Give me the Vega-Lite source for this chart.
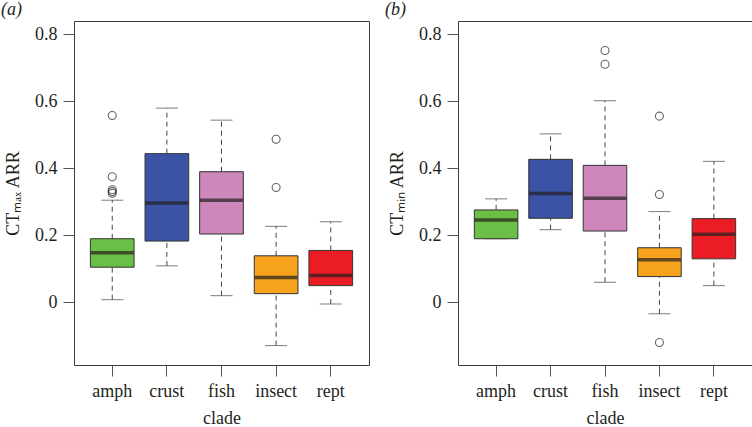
{
  "$schema": "https://vega.github.io/schema/vega-lite/v6.json",
  "padding": {"left": 0, "top": 0, "right": 1, "bottom": 0},
  "bounds": "flush",
  "spacing": 89,
  "background": "white",
  "config": {
    "font": "Liberation Serif",
    "view": {"stroke": "#3a3a3a", "strokeWidth": 1},
    "axisY": {"domain": false, "grid": false, "tickSize": 11, "tickColor": "#555555", "labelPadding": 6, "labelFont": "Liberation Serif", "labelFontSize": 18, "labelColor": "#231f20", "titleFont": "Liberation Serif", "titleFontSize": 18, "titleFontWeight": "normal", "titleColor": "#231f20", "titlePadding": 12},
    "axisX": {"domain": false, "grid": false, "tickSize": 11, "tickColor": "#555555", "labelPadding": 6, "labelFont": "Liberation Serif", "labelFontSize": 18, "labelColor": "#231f20", "labelAngle": 0, "titleFont": "Liberation Serif", "titleFontSize": 18, "titleFontWeight": "normal", "titleColor": "#231f20", "titlePadding": 9},
    "title": {"font": "Liberation Serif", "fontSize": 18, "fontWeight": "normal", "fontStyle": "italic", "color": "#231f20", "anchor": "start", "frame": "group", "offset": 2}
  },
  "datasets": {
    "boxes": [
      {"panel": "a", "clade": "amph", "lower": 0.007, "q1": 0.104, "median": 0.147, "q3": 0.189, "upper": 0.304},
      {"panel": "a", "clade": "crust", "lower": 0.108, "q1": 0.182, "median": 0.296, "q3": 0.443, "upper": 0.579},
      {"panel": "a", "clade": "fish", "lower": 0.019, "q1": 0.203, "median": 0.304, "q3": 0.389, "upper": 0.543},
      {"panel": "a", "clade": "insect", "lower": -0.130, "q1": 0.025, "median": 0.073, "q3": 0.138, "upper": 0.226},
      {"panel": "a", "clade": "rept", "lower": -0.006, "q1": 0.049, "median": 0.079, "q3": 0.154, "upper": 0.240},
      {"panel": "b", "clade": "amph", "lower": 0.189, "q1": 0.189, "median": 0.245, "q3": 0.275, "upper": 0.308},
      {"panel": "b", "clade": "crust", "lower": 0.216, "q1": 0.250, "median": 0.324, "q3": 0.426, "upper": 0.502},
      {"panel": "b", "clade": "fish", "lower": 0.059, "q1": 0.212, "median": 0.310, "q3": 0.408, "upper": 0.601},
      {"panel": "b", "clade": "insect", "lower": -0.035, "q1": 0.076, "median": 0.126, "q3": 0.162, "upper": 0.270},
      {"panel": "b", "clade": "rept", "lower": 0.049, "q1": 0.129, "median": 0.202, "q3": 0.249, "upper": 0.420}
    ],
    "outliers": [
      {"panel": "a", "clade": "amph", "value": 0.557},
      {"panel": "a", "clade": "amph", "value": 0.374},
      {"panel": "a", "clade": "amph", "value": 0.335},
      {"panel": "a", "clade": "amph", "value": 0.330},
      {"panel": "a", "clade": "amph", "value": 0.325},
      {"panel": "a", "clade": "insect", "value": 0.486},
      {"panel": "a", "clade": "insect", "value": 0.342},
      {"panel": "b", "clade": "fish", "value": 0.751},
      {"panel": "b", "clade": "fish", "value": 0.710},
      {"panel": "b", "clade": "insect", "value": 0.555},
      {"panel": "b", "clade": "insect", "value": 0.321},
      {"panel": "b", "clade": "insect", "value": -0.121}
    ]
  },
  "hconcat": [
    {
      "width": 295,
      "height": 344,
      "title": {"text": "(a)", "dx": -73},
      "data": {"name": "boxes"},
      "transform": [{"filter": "datum.panel == 'a'"}],
      "encoding": {
        "x": {"field": "clade", "type": "nominal", "scale": {"paddingInner": 0, "paddingOuter": 0.2}, "axis": {"title": "clade"}}
      },
      "layer": [
        {"mark": {"type": "rule", "strokeDash": [5, 4], "color": "#444444", "strokeWidth": 1},
         "encoding": {"y": {"field": "q3", "type": "quantitative", "title": "CTₘₐₓ ARR", "scale": {"domain": [-0.188, 0.839], "nice": false, "zero": false}, "axis": {"values": [0, 0.2, 0.4, 0.6, 0.8], "labelExpr": "datum.value == 0 ? '0' : format(datum.value, '.1f')"}}, "y2": {"field": "upper"}}},
        {"mark": {"type": "rule", "strokeDash": [5, 4], "color": "#444444", "strokeWidth": 1},
         "encoding": {"y": {"field": "lower", "type": "quantitative", "title": "CTₘₐₓ ARR"}, "y2": {"field": "q1"}}},
        {"mark": {"type": "tick", "size": 22, "thickness": 1, "color": "#444444"},
         "encoding": {"y": {"field": "upper", "type": "quantitative", "title": "CTₘₐₓ ARR"}}},
        {"mark": {"type": "tick", "size": 22, "thickness": 1, "color": "#444444"},
         "encoding": {"y": {"field": "lower", "type": "quantitative", "title": "CTₘₐₓ ARR"}}},
        {"mark": {"type": "bar", "width": {"band": 0.8}, "stroke": "#333333", "strokeWidth": 1},
         "encoding": {"y": {"field": "q1", "type": "quantitative", "title": "CTₘₐₓ ARR"}, "y2": {"field": "q3"},
           "color": {"field": "clade", "type": "nominal", "legend": null, "scale": {"domain": ["amph", "crust", "fish", "insect", "rept"], "range": ["#6cbf46", "#3a53a4", "#cd87bb", "#f6a21d", "#ec1c24"]}}}},
        {"mark": {"type": "tick", "size": 43, "thickness": 3.5, "color": "#231f20"},
         "encoding": {"y": {"field": "median", "type": "quantitative", "title": "CTₘₐₓ ARR"}}},
        {"data": {"name": "outliers"},
         "transform": [{"filter": "datum.panel == 'a'"}],
         "mark": {"type": "point", "shape": "circle", "filled": false, "size": 64, "stroke": "#231f20", "strokeWidth": 1.1},
         "encoding": {"y": {"field": "value", "type": "quantitative", "title": "CTₘₐₓ ARR"}}}
      ]
    },
    {
      "width": 294,
      "height": 344,
      "title": {"text": "(b)", "dx": -73},
      "data": {"name": "boxes"},
      "transform": [{"filter": "datum.panel == 'b'"}],
      "encoding": {
        "x": {"field": "clade", "type": "nominal", "scale": {"paddingInner": 0, "paddingOuter": 0.2}, "axis": {"title": "clade"}}
      },
      "layer": [
        {"mark": {"type": "rule", "strokeDash": [5, 4], "color": "#444444", "strokeWidth": 1},
         "encoding": {"y": {"field": "q3", "type": "quantitative", "title": "CTₘᵢₙ ARR", "scale": {"domain": [-0.188, 0.839], "nice": false, "zero": false}, "axis": {"values": [0, 0.2, 0.4, 0.6, 0.8], "labelExpr": "datum.value == 0 ? '0' : format(datum.value, '.1f')"}}, "y2": {"field": "upper"}}},
        {"mark": {"type": "rule", "strokeDash": [5, 4], "color": "#444444", "strokeWidth": 1},
         "encoding": {"y": {"field": "lower", "type": "quantitative", "title": "CTₘᵢₙ ARR"}, "y2": {"field": "q1"}}},
        {"mark": {"type": "tick", "size": 22, "thickness": 1, "color": "#444444"},
         "encoding": {"y": {"field": "upper", "type": "quantitative", "title": "CTₘᵢₙ ARR"}}},
        {"mark": {"type": "tick", "size": 22, "thickness": 1, "color": "#444444"},
         "encoding": {"y": {"field": "lower", "type": "quantitative", "title": "CTₘᵢₙ ARR"}}},
        {"mark": {"type": "bar", "width": {"band": 0.8}, "stroke": "#333333", "strokeWidth": 1},
         "encoding": {"y": {"field": "q1", "type": "quantitative", "title": "CTₘᵢₙ ARR"}, "y2": {"field": "q3"},
           "color": {"field": "clade", "type": "nominal", "legend": null, "scale": {"domain": ["amph", "crust", "fish", "insect", "rept"], "range": ["#6cbf46", "#3a53a4", "#cd87bb", "#f6a21d", "#ec1c24"]}}}},
        {"mark": {"type": "tick", "size": 43, "thickness": 3.5, "color": "#231f20"},
         "encoding": {"y": {"field": "median", "type": "quantitative", "title": "CTₘᵢₙ ARR"}}},
        {"data": {"name": "outliers"},
         "transform": [{"filter": "datum.panel == 'b'"}],
         "mark": {"type": "point", "shape": "circle", "filled": false, "size": 64, "stroke": "#231f20", "strokeWidth": 1.1},
         "encoding": {"y": {"field": "value", "type": "quantitative", "title": "CTₘᵢₙ ARR"}}}
      ]
    }
  ]
}
